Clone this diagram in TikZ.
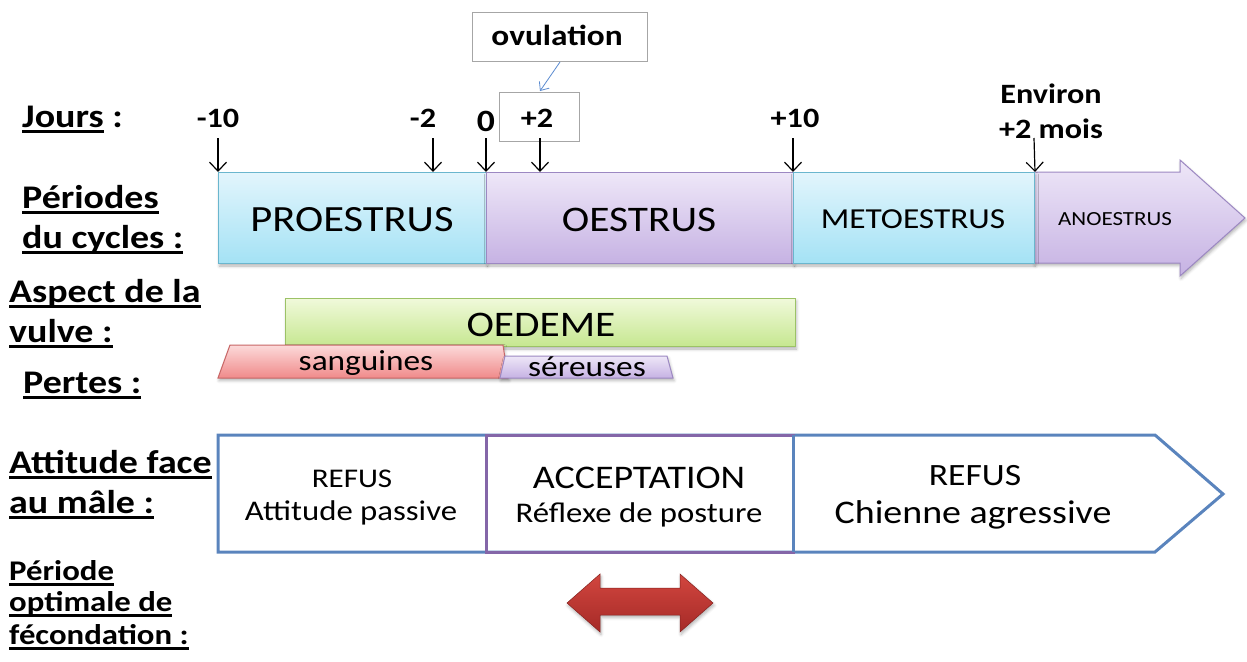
\documentclass[tikz,border=0pt]{standalone}
\usepackage{fontspec}
\setmainfont{Carlito}[FakeStretch=1.15]
\newcommand{\ulx}[1]{\setbox0\hbox{#1}\rlap{\rule[-5.5pt]{\wd0}{2.2pt}}\box0\relax}
\usetikzlibrary{arrows.meta,shadows.blur}
\definecolor{cyant}{HTML}{E2F5FC}
\definecolor{cyanbot}{HTML}{A4E2F5}
\definecolor{cyanline}{HTML}{6AB6CE}
\definecolor{purt}{HTML}{EEE7F8}
\definecolor{purbot}{HTML}{C6B2E3}
\definecolor{purline}{HTML}{9C88C2}
\definecolor{grnt}{HTML}{F0F9DA}
\definecolor{grnbot}{HTML}{C6E790}
\definecolor{grnline}{HTML}{9CC266}
\definecolor{pnkt}{HTML}{FCDADA}
\definecolor{pnkbot}{HTML}{F08A8A}
\definecolor{pnkline}{HTML}{C86666}
\definecolor{outblue}{HTML}{5A84BD}
\definecolor{outpur}{HTML}{8466A8}
\definecolor{redt}{HTML}{D2463F}
\definecolor{redbot}{HTML}{A52A27}
\definecolor{ovblue}{HTML}{5B8BD0}
\newcommand{\fsz}[1]{\fontsize{#1}{#1}\selectfont}
\tikzset{
  lbl/.style={anchor=base west, inner sep=0pt, font=\bfseries\fsz{33}},
  smlbl/.style={anchor=base west, inner sep=0pt, font=\bfseries\fsz{28.5}},
  daylbl/.style={anchor=base, inner sep=0pt, font=\bfseries\fsz{28}},
  tick/.style={-{Straight Barb[length=9pt,width=17pt]}, line width=1.2pt},
  txt/.style={inner sep=0pt, anchor=base},
  graybox/.style={draw=gray!70, line width=0.8pt, fill=white},
  shad/.style={blur shadow={shadow xshift=1pt, shadow yshift=-2.5pt, shadow blur radius=3pt, shadow opacity=30}},
}
\begin{document}
\begin{tikzpicture}[x=1pt,y=-1pt]
\useasboundingbox (0,0) rectangle (1247,661);
% left labels
\node[lbl] (jours) at (22,127) {\ulx{Jours} :};
\node[lbl] (per1) at (22,208) {\ulx{Périodes}};
\node[lbl] (per2) at (22,248) {\ulx{du cycles :}};
\node[lbl] (asp1) at (9,302) {\ulx{Aspect de la}};
\node[lbl] (asp2) at (9,342) {\ulx{vulve :}};
\node[lbl] (pertes) at (23,393) {\ulx{Pertes :}};
\node[lbl] (att1) at (9,473) {\ulx{Attitude face}};
\node[lbl] (att2) at (9,513) {\ulx{au mâle :}};
\node[smlbl] (opt1) at (9,580) {\ulx{Période}};
\node[smlbl] (opt2) at (9,611) {\ulx{optimale de}};
\node[smlbl] (opt3) at (9,644) {\ulx{fécondation :}};
% period bar
\path[shad, draw=purline, line width=1pt, top color=purt, bottom color=purbot]
  (1034,172) -- (1180,172) -- (1180,160) -- (1245,218) -- (1180,276) -- (1180,263) -- (1034,263) -- cycle;
\node[shad, draw=cyanline, line width=1pt, top color=cyant, bottom color=cyanbot, anchor=north west,
  minimum width=268pt, minimum height=91pt, inner sep=0pt] (pro) at (218,172) {};
\node[shad, draw=purline, line width=1pt, top color=purt, bottom color=purbot, anchor=north west,
  minimum width=307pt, minimum height=91pt, inner sep=0pt] (oes) at (486,172) {};
\node[shad, draw=cyanline, line width=1pt, top color=cyant, bottom color=cyanbot, anchor=north west,
  minimum width=241pt, minimum height=91pt, inner sep=0pt] (met) at (793,172) {};
\node[txt, font=\fsz{37}] (tpro) at (352,231) {PROESTRUS};
\node[txt, font=\fsz{36}] (toes) at (639,231) {OESTRUS};
\node[txt, font=\fsz{29}] (tmet) at (913,228) {METOESTRUS};
\node[txt, font=\fsz{20}] (tano) at (1115,225) {ANOESTRUS};
% day labels and ticks
\node[graybox, anchor=north west, minimum width=80pt, minimum height=49pt] (p2box) at (499,92) {};
\node[graybox, anchor=north west, minimum width=175pt, minimum height=49pt] (ovbox) at (472,12) {};
\node[txt, font=\bfseries\fsz{29}] (ovul) at (557,46) {ovulation};
\coordinate (ovs) at (560,62);
\coordinate (ovt) at (540,91);
\draw[ovblue, line width=0.8pt, -{Straight Barb[length=7pt,width=12pt]}] (ovs) -- (ovt);
\node[daylbl] (dm10) at (218,127) {-10};
\node[daylbl] (dm2) at (423,127) {-2};
\node[daylbl, font=\bfseries\fsz{31}] (d0) at (486,131) {0};
\node[daylbl] (dp2) at (537,127) {+2};
\node[daylbl] (dp10) at (795,127) {+10};
\node[daylbl] (env1) at (1051,103) {Environ};
\node[daylbl] (env2) at (1051,138) {+2 mois};
\coordinate (k1) at (218,138);
\coordinate (k2) at (433,138);
\coordinate (k3) at (486,138);
\coordinate (k4) at (540,138);
\coordinate (k5) at (793,138);
\coordinate (k6) at (1034,138);
\coordinate (k2e) at (433,172);
\coordinate (k4e) at (540,172);
\draw[tick] (k1) -- (pro.north west);
\draw[tick] (k2) -- (k2e);
\draw[tick] (k3) -- (oes.north west);
\draw[tick] (k4) -- (k4e);
\draw[tick] (k5) -- (met.north west);
\draw[tick] (k6) -- (met.north east);
% vulve
\node[shad, draw=grnline, line width=1pt, top color=grnt, bottom color=grnbot, anchor=north west,
  minimum width=510pt, minimum height=48pt, inner sep=0pt] (oed) at (285,298) {};
\node[txt, font=\fsz{36}] (toed) at (541,336) {OEDEME};
\path[shad, draw=pnkline, line width=1pt, top color=pnkt, bottom color=pnkbot]
  (218,378) -- (230,345) -- (503,345) -- (508,378) -- cycle;
\path[shad, draw=purline, line width=1pt, top color=purt, bottom color=purbot]
  (500,378) -- (505,356) -- (667,356) -- (673,378) -- cycle;
\node[txt, font=\fsz{29}] (tsang) at (366,370) {sanguines};
\node[txt, font=\fsz{29}] (tser) at (587,376) {séreuses};
% attitude
\draw[outblue, line width=3pt, line join=miter]
  (218,435) -- (1155,435) -- (1223,494) -- (1155,552) -- (218,552) -- cycle;
\draw[outpur, line width=3pt] (486,435) rectangle (793,552);
\draw[outblue, line width=3pt] (793,435) -- (793,552);
\node[txt, font=\fsz{27}] (r1a) at (352,487) {REFUS};
\node[txt, font=\fsz{28.5}] (r1b) at (351,520) {Attitude passive};
\node[txt, font=\fsz{33}] (r2a) at (639,488) {ACCEPTATION};
\node[txt, font=\fsz{28.5}] (r2b) at (639,522) {Réflexe de posture};
\node[txt, font=\fsz{31}] (r3a) at (975,485) {REFUS};
\node[txt, font=\fsz{33}] (r3b) at (973,523) {Chienne agressive};
% optimal period arrow
\path[shad, top color=redt, bottom color=redbot, draw=redbot!80!black, line width=0.5pt]
  (567,603) -- (600,574) -- (600,588) -- (680,588) -- (680,574) -- (713,603)
  -- (680,632) -- (680,615) -- (600,615) -- (600,632) -- cycle;
\end{tikzpicture}
\end{document}
